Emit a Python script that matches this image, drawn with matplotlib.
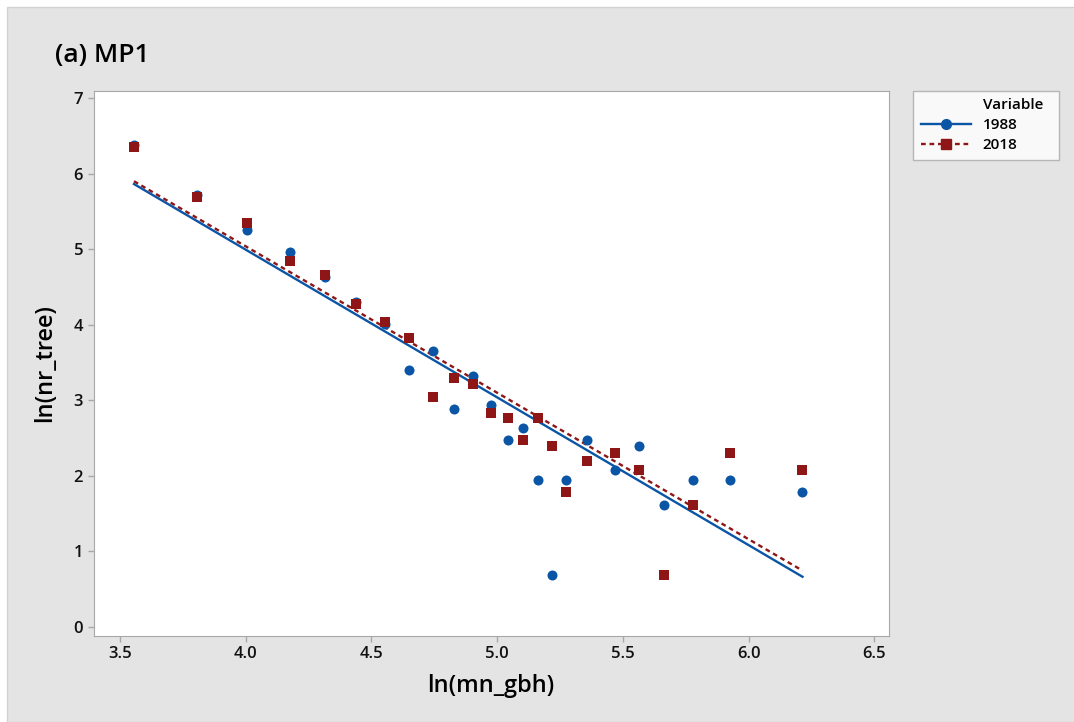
import matplotlib
matplotlib.use("Agg")
import matplotlib.pyplot as plt
from matplotlib.lines import Line2D
from matplotlib.patches import Rectangle
import numpy as np

plt.rcParams["font.family"] = ["Open Sans", "DejaVu Sans"]

# ln(mean gbh) classes and ln(number of trees)
x_1988 = [3.556, 3.806, 4.004, 4.175, 4.317, 4.440, 4.556, 4.651, 4.746, 4.829,
          4.905, 4.976, 5.044, 5.103, 5.163, 5.218, 5.274, 5.357, 5.468, 5.563,
          5.663, 5.778, 5.925, 6.214]
y_1988 = [6.38, 5.72, 5.26, 4.96, 4.63, 4.30, 4.01, 3.40, 3.66, 2.89,
          3.33, 2.94, 2.48, 2.64, 1.95, 0.69, 1.95, 2.48, 2.08, 2.40,
          1.61, 1.95, 1.95, 1.79]

x_2018 = x_1988
y_2018 = [6.35, 5.69, 5.35, 4.84, 4.66, 4.28, 4.04, 3.83, 3.04, 3.30,
          3.22, 2.83, 2.77, 2.48, 2.77, 2.40, 1.79, 2.20, 2.30, 2.08,
          0.69, 1.61, 2.30, 2.08]

x_ticks = [3.5, 4.0, 4.5, 5.0, 5.5, 6.0, 6.5]
y_ticks = [0, 1, 2, 3, 4, 5, 6, 7]

blue = "#0a55a5"
red = "#8e1616"
bg = "#e4e4e4"
dotted = (0, (2, 1.6))

fig = plt.figure(figsize=(10.74, 7.22), dpi=100, facecolor="white")
fig.patches.append(Rectangle((7 / 1074, 0), 1, 1 - 7 / 722, transform=fig.transFigure,
                             facecolor=bg, edgecolor="#d2d2d2", lw=1, zorder=-10))

ax = fig.add_axes([93.5 / 1074, 1 - 636 / 722, 795 / 1074, 545 / 722])
ax.set_facecolor("white")

# fitted lines
for xs, ys, c, ls in [(x_1988, y_1988, blue, "-"), (x_2018, y_2018, red, dotted)]:
    xs = np.array(xs)
    b, a = np.polyfit(xs, ys, 1)
    xx = np.array([xs.min(), xs.max()])
    ax.plot(xx, a + b * xx, color=c, ls=ls, lw=1.7, zorder=2)

ax.scatter(x_1988, y_1988, s=52, marker="o", color=blue, zorder=3, linewidths=0)
ax.scatter(x_2018, y_2018, s=48, marker="s", color=red, zorder=4, linewidths=0)

ax.set_xlim(3.395, 6.556)
ax.set_ylim(-0.119, 7.097)
ax.set_xticks(x_ticks)
ax.set_xticklabels([f"{v:.1f}" for v in x_ticks])
ax.set_yticks(y_ticks)
for s in ax.spines.values():
    s.set_color("#a8a8a8")
ax.tick_params(colors="#a8a8a8", labelcolor="#111111", length=4, width=1,
               labelsize=12)
for lab in ax.get_xticklabels() + ax.get_yticklabels():
    lab.set_fontweight("semibold")

ax.set_xlabel("ln(mn_gbh)", fontsize=17, fontweight="semibold", labelpad=8)
ax.set_ylabel("ln(nr_tree)", fontsize=17, fontweight="semibold", labelpad=12)

fig.text(55 / 1074, 1 - 56 / 722, "(a) MP1", fontsize=19, fontweight="semibold",
         va="center", ha="left")

handles = [Line2D([], [], color="none"),
           Line2D([], [], color=blue, lw=1.7, marker="o", ms=7),
           Line2D([], [], color=red, lw=1.7, ls=dotted, marker="s", ms=6.5)]
leg = fig.legend(handles, ["Variable  ", "1988", "2018"], loc="upper left",
                 bbox_to_anchor=(913 / 1074, 1 - 90.5 / 722), fontsize=11,
                 frameon=True, fancybox=False, edgecolor="#a8a8a8",
                 handlelength=3.3, handletextpad=0.75, labelspacing=0.4,
                 borderpad=0.5, borderaxespad=0)
leg.get_frame().set_linewidth(1)
for t in leg.get_texts():
    t.set_fontweight("semibold")

fig.savefig("out.png", dpi=100, facecolor=fig.get_facecolor())
